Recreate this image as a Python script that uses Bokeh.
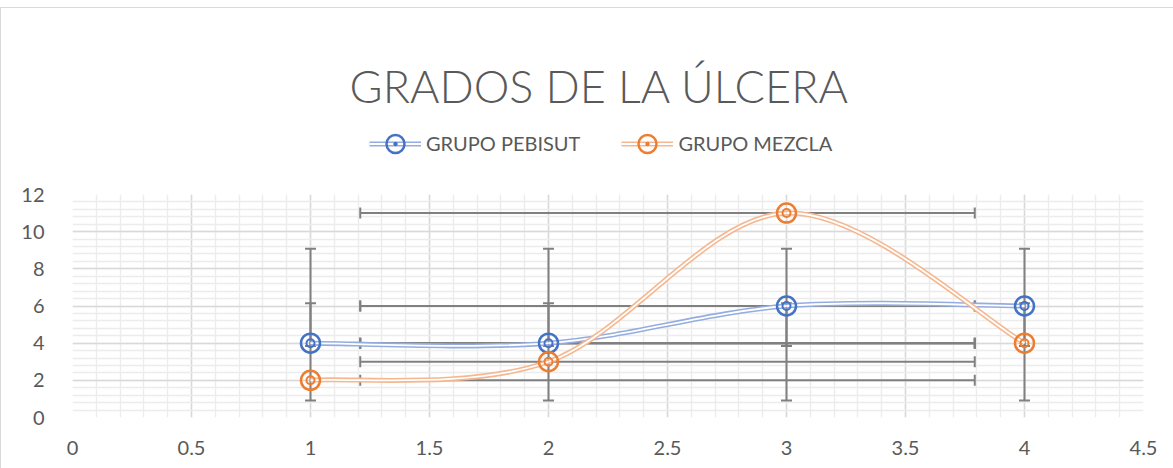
import numpy as np
from bokeh.plotting import figure
from bokeh.layouts import column
from bokeh.models import (Range1d, FixedTicker, Legend, LegendItem, Label,
                          ColumnDataSource, CustomJSTickFormatter, InlineStyleSheet)
from bokeh.embed import file_html
from bokeh.resources import INLINE

# ---------------- data ----------------
title_text = "GRADOS DE LA ÚLCERA"
x_vals = [1, 2, 3, 4]
pebisut = [4, 4, 6, 6]
mezcla = [2, 3, 11, 4]
series_names = ["GRUPO PEBISUT", "GRUPO MEZCLA"]
x_ticks = [0, 0.5, 1, 1.5, 2, 2.5, 3, 3.5, 4, 4.5]
y_ticks = [0, 2, 4, 6, 8, 10, 12]

# ---------------- style ----------------
FONT = "Lato"
TXT = "#595959"
MARK_COLORS = ["#4472c4", "#ed7d31"]
LINE_COLORS = ["#94ade0", "#f5b78f"]
ERR = "#808080"
W = 1173
HEAD_H = 174
MAIN_H = 294
ML, MR = 72, 30

# ---------------- header (title + legend) ----------------
head = figure(width=W, height=HEAD_H, x_range=Range1d(ML, W - MR), y_range=Range1d(0, HEAD_H),
              output_backend="svg", toolbar_location=None, x_axis_type=None, y_axis_type=None,
              title=None, min_border_left=ML, min_border_right=MR,
              min_border_top=0, min_border_bottom=0)
head.outline_line_color = None
head.grid.visible = False
head.extra_y_ranges = {"hide": Range1d(-1000, -999)}
head.stylesheets = [InlineStyleSheet(css=""":host::after { content: ''; position: absolute; left: 0px; top: 7px; right: 0px; bottom: 0px;
  border-left: 1.5px solid #d9d9d9; border-top: 1.5px solid #d9d9d9; pointer-events: none; }""")]

head.add_layout(Label(x=599, y=HEAD_H - 85, y_units="screen", text=title_text,
                      text_align="center", text_baseline="alphabetic",
                      text_font="Lato Light, Lato", text_font_size="45px", text_color=TXT))

# ---------------- main plot ----------------
p = figure(width=W, height=MAIN_H, x_range=Range1d(0, 4.5), y_range=Range1d(0, 12),
           output_backend="svg", toolbar_location=None, title=None,
           min_border_left=ML, min_border_right=MR, min_border_top=20, min_border_bottom=51)
p.outline_line_color = None
p.stylesheets = [InlineStyleSheet(css=""":host::after { content: ''; position: absolute; left: 0px; top: 0px; right: 0px; bottom: 0px;
  border-left: 1.5px solid #d9d9d9; pointer-events: none; }""")]

p.xaxis.ticker = FixedTicker(ticks=x_ticks, minor_ticks=list(np.round(np.arange(0, 4.5001, 0.1), 2)))
p.yaxis.ticker = FixedTicker(ticks=y_ticks, minor_ticks=list(np.round(np.arange(0, 12.001, 0.4), 2)))
fmt = CustomJSTickFormatter(code="return tick.toString();")
p.xaxis.formatter = fmt
p.yaxis.formatter = fmt
for ax in (p.xaxis, p.yaxis):
    ax.axis_line_color = None
    ax.major_tick_line_color = None
    ax.minor_tick_line_color = None
    ax.major_label_text_font = FONT
    ax.major_label_text_font_size = "20px"
    ax.major_label_text_color = TXT
p.yaxis.major_label_standoff = 22
p.xaxis.major_label_standoff = 17

for g in (p.xgrid, p.ygrid):
    g.grid_line_color = "#d9d9d9"
    g.grid_line_width = 1.5
    g.minor_grid_line_color = "#ececec"
    g.minor_grid_line_width = 1.5

# error bars (Excel standard-deviation error bars)
xm, xs = np.mean(x_vals), np.std(x_vals, ddof=1)
for ys in (pebisut, mezcla):
    ym, ysd = np.mean(ys), np.std(ys, ddof=1)
    n = len(x_vals)
    p.segment(x0=x_vals, y0=[ym - ysd] * n, x1=x_vals, y1=[ym + ysd] * n,
              line_color=ERR, line_width=2)
    p.scatter(x=x_vals * 2, y=[ym - ysd] * n + [ym + ysd] * n, marker="dash",
              size=11, line_color=ERR, line_width=2)
    p.segment(x0=[xm - xs] * n, y0=ys, x1=[xm + xs] * n, y1=ys,
              line_color=ERR, line_width=2)
    p.scatter(x=[xm - xs] * n + [xm + xs] * n, y=ys * 2, marker="dash", angle=np.pi / 2,
              size=11, line_color=ERR, line_width=2)


def smooth(xs_, ys_):
    P = list(zip(xs_, ys_))
    n = len(P)
    d = dict(x0=[], y0=[], x1=[], y1=[], cx0=[], cy0=[], cx1=[], cy1=[])
    for i in range(n - 1):
        a, b, c, e = P[max(i - 1, 0)], P[i], P[i + 1], P[min(i + 2, n - 1)]
        d["x0"].append(b[0]); d["y0"].append(b[1])
        d["x1"].append(c[0]); d["y1"].append(c[1])
        d["cx0"].append(b[0] + (c[0] - a[0]) / 6); d["cy0"].append(b[1] + (c[1] - a[1]) / 6)
        d["cx1"].append(c[0] - (e[0] - b[0]) / 6); d["cy1"].append(c[1] - (e[1] - b[1]) / 6)
    return ColumnDataSource(d)


BZ = dict(x0="x0", y0="y0", x1="x1", y1="y1", cx0="cx0", cy0="cy0", cx1="cx1", cy1="cy1")
srcs = []
for ys, lc in zip((pebisut, mezcla), LINE_COLORS):
    src = smooth(x_vals, ys)
    srcs.append(src)
    p.bezier(source=src, line_color=lc, line_width=5, **BZ)
    p.bezier(source=src, line_color="white", line_width=1.8, **BZ)

leg_items = []
for ys, name, mc, lc, src in zip((pebisut, mezcla), series_names, MARK_COLORS, LINE_COLORS, srcs):
    p.scatter(x=x_vals, y=ys, marker="circle", size=19, fill_alpha=0,
              line_color=mc, line_width=2.5)
    p.scatter(x=x_vals, y=ys, marker="circle", size=8, fill_alpha=0,
              line_color=mc, line_width=2)
    # legend samples in header (same data, drawn on a hidden range)
    r1 = head.bezier(source=src, line_color=lc, line_width=5, y_range_name="hide", **BZ)
    r2 = head.bezier(source=src, line_color="white", line_width=1.8, y_range_name="hide", **BZ)
    r3 = head.scatter(x=x_vals, y=ys, marker="circle", fill_alpha=0, line_color=mc,
                      line_width=2.5, y_range_name="hide")
    r4 = head.scatter(x=x_vals, y=ys, marker="dot", line_color=mc, fill_color=mc,
                      y_range_name="hide")
    leg_items.append(LegendItem(label=name, renderers=[r1, r2, r3, r4]))

legend = Legend(items=leg_items, orientation="horizontal",
                location=(369 - ML, HEAD_H - 165.5),
                glyph_width=52, glyph_height=45, label_standoff=5, spacing=41,
                padding=0, margin=0, border_line_color=None, background_fill_alpha=0,
                label_text_font=FONT, label_text_font_size="20px", label_text_color=TXT)
head.add_layout(legend, "center")

layout = column(head, p, spacing=0)
open("out.html", "w").write(file_html(layout, INLINE))
